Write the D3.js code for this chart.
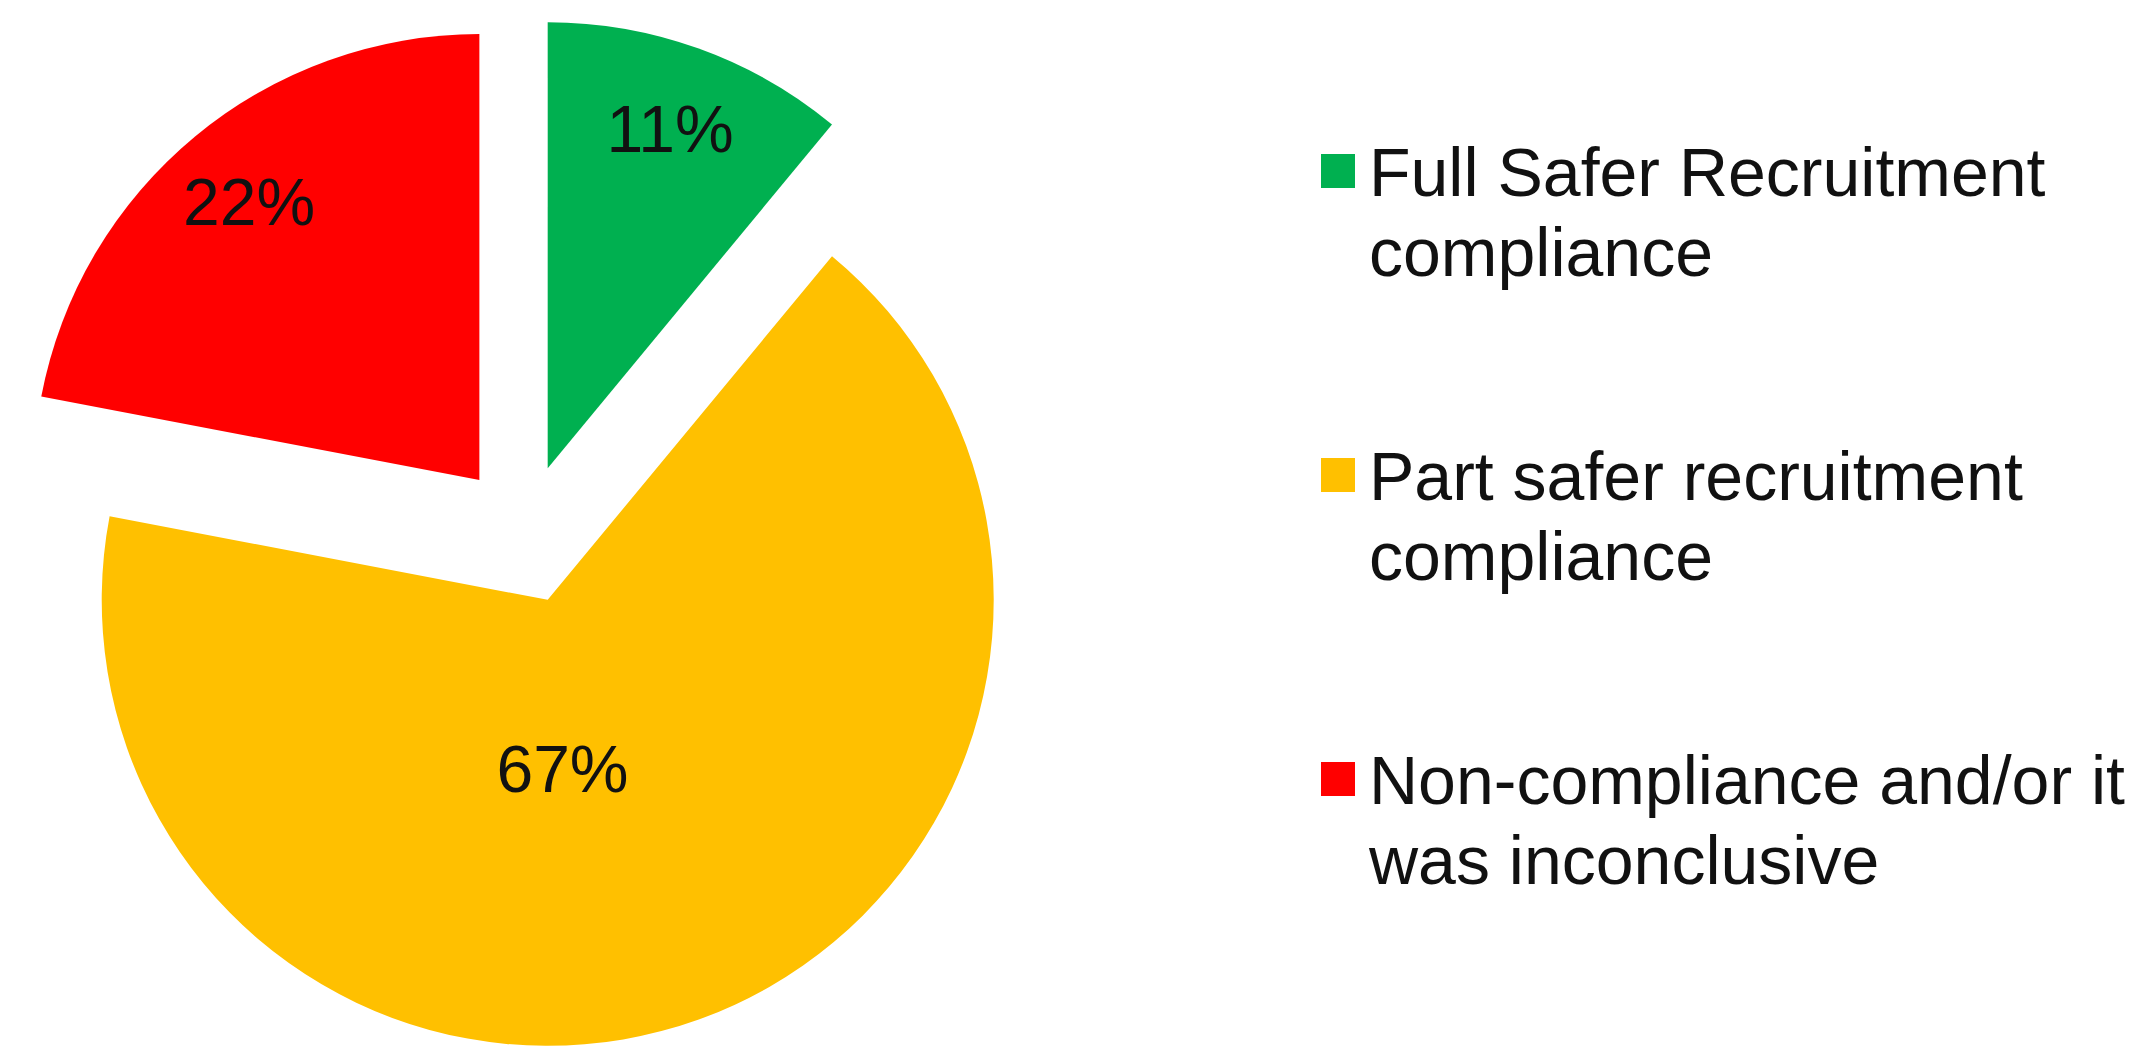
<!DOCTYPE html>
<html>
<head>
<meta charset="utf-8">
<script src="https://cdn.jsdelivr.net/npm/d3@7"></script>
<style>
  body { margin: 0; background: #fff; }
  text { font-family: Arial, "Liberation Sans", sans-serif; fill: #111; }
</style>
</head>
<body>
<div id="chart"></div>
<script>
// Data
const categories = [
    'Full Safer Recruitment compliance',
    'Part safer recruitment compliance',
    'Non-compliance and/or it was inconclusive'
];
const legendLines = [
    ['Full Safer Recruitment', 'compliance'],
    ['Part safer recruitment', 'compliance'],
    ['Non-compliance and/or it', 'was inconclusive']
];
const values = [11, 67, 22];
const colours = ['#00b050', '#ffc000', '#ff0000'];

class PieChart {
    constructor(_config) {
        this.config = {
            parentElement: _config.parentElement,
            svgWidth: _config.svgWidth || 2156,
            svgHeight: _config.svgHeight || 1051
        }
        this.initVis();
    }

    center = {x: 524, y: 534};
    radius = 446;
    explode = 70;       // every slice is pulled out along its bisector

    initVis() {
        const vis = this;

        vis.svg = d3.select(vis.config.parentElement).append('svg')
            .attr('width', vis.config.svgWidth)
            .attr('height', vis.config.svgHeight);

        vis.colour = d3.scaleOrdinal().domain(categories).range(colours);

        vis.pie = d3.pie().sort(null).value(d => d.value);
        vis.arc = d3.arc().innerRadius(0).outerRadius(vis.radius);

        vis.renderVis();
    }

    renderVis() {
        const vis = this;
        const data = categories.map((c, i) => ({key: c, value: values[i]}));
        const arcs = vis.pie(data);

        const pieG = vis.svg.append('g')
            .attr('transform', `translate(${vis.center.x}, ${vis.center.y})`);

        const slice = pieG.selectAll('.slice').data(arcs)
            .enter().append('g')
            .attr('class', 'slice')
            .attr('transform', d => {
                const mid = (d.startAngle + d.endAngle) / 2;
                return `translate(${vis.explode * Math.sin(mid)}, ${-vis.explode * Math.cos(mid)})`;
            });

        slice.append('path')
            .attr('d', vis.arc)
            .attr('fill', d => vis.colour(d.data.key));

        // Labels: small slices near the rim, the big one pulled in toward the apex
        slice.append('text')
            .attr('text-anchor', 'middle')
            .attr('dy', '0.36em')
            .attr('font-size', 66)
            .attr('transform', d => {
                const big = d.value > 50;
                const ang = big ? Math.PI * 175 / 180 : (d.startAngle + d.endAngle) / 2;
                const dist = vis.radius * (big ? 0.38 : 0.81);
                return `translate(${dist * Math.sin(ang)}, ${-dist * Math.cos(ang)})`;
            })
            .text(d => d.value + '%');

        // Legend
        const legend = vis.svg.append('g')
            .attr('transform', 'translate(1321, 196)');

        const item = legend.selectAll('.legend-item').data(data)
            .enter().append('g')
            .attr('class', 'legend-item')
            .attr('transform', (d, i) => `translate(0, ${i * 304})`);

        item.append('rect')
            .attr('x', 0)
            .attr('y', -42)
            .attr('width', 34)
            .attr('height', 34)
            .attr('fill', d => vis.colour(d.key));

        item.append('text')
            .attr('x', 48)
            .attr('font-size', 68)
            .selectAll('tspan')
            .data((d, i) => legendLines[i])
            .enter().append('tspan')
            .attr('x', 48)
            .attr('dy', (d, i) => i === 0 ? 0 : 80)
            .text(d => d);
    }
}

const chart = new PieChart({parentElement: '#chart'});
</script>
</body>
</html>
